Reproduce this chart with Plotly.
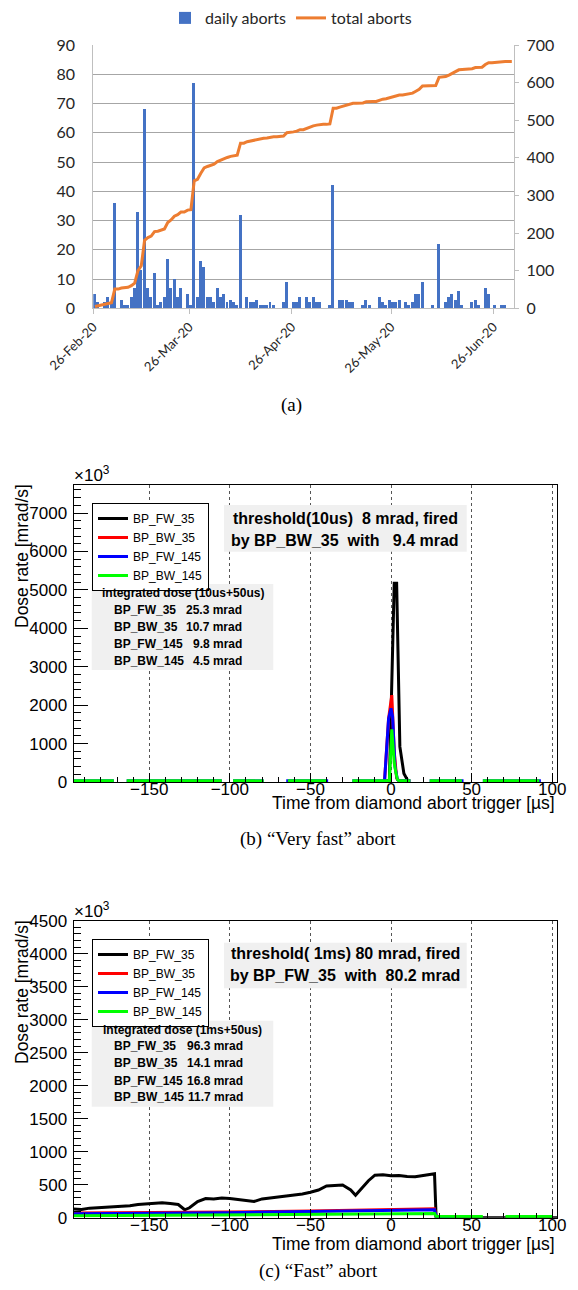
import numpy as np
import pandas as pd
import plotly.graph_objects as go

W, H = 578, 1290
def px(x): return x / W
def py(y): return 1 - y / H

# ---------------- (a) daily / total aborts ----------------
first_day = "2020-02-26"
daily_aborts = [5, 2, 0, 2, 4, 2, 36, 0, 3, 1,
                1, 4, 7, 33, 13, 68, 7, 4, 12, 1,
                2, 4, 17, 7, 10, 4, 7, 0, 5, 1,
                77, 4, 16, 14, 4, 4, 2, 7, 4, 5,
                2, 3, 2, 1, 32, 0, 4, 2, 2, 3,
                1, 1, 1, 2, 1, 0, 0, 2, 9, 0,
                2, 2, 4, 0, 4, 2, 4, 2, 2, 0,
                0, 1, 42, 0, 3, 3, 3, 2, 2, 0,
                0, 1, 3, 1, 0, 0, 4, 2, 1, 3,
                2, 2, 3, 0, 2, 1, 2, 5, 5, 9,
                0, 0, 1, 0, 22, 0, 2, 4, 5, 3,
                6, 1, 0, 0, 2, 3, 1, 0, 7, 5,
                0, 1, 0, 1, 1, 0, 0]
date_ticks = ["2020-02-26", "2020-03-26", "2020-04-26", "2020-05-26", "2020-06-26"]

days = pd.date_range(first_day, periods=len(daily_aborts), freq="D") + pd.Timedelta(hours=12)
total_aborts = np.cumsum(daily_aborts)

# ---------------- (b) "Very fast" abort ----------------
vf_t_fw35 = [-3, -1, 2, 3.5, 5.5, 8, 10.5, 12]
vf_v_fw35 = [30, 30, 5170, 5170, 920, 220, 30, 30]
vf_t_bw35 = [-5, -4, -1.5, 0.5, 2, 3.5, 5, 8]
vf_v_bw35 = [30, 30, 1650, 2260, 800, 100, 30, 30]
vf_t_fw145 = [-197, -172, -170, -164, -105, -100, -98, -79, -70, -65, -39, -30, -24, -4, -1.5, 0, 1, 2.5, 4, 5, 12, 18, 24, 45, 50, 57, 93]
vf_v_fw145 = [30, 30, None, 30, 30, None, 30, 30, None, 30, 30, None, 30, 30, 1650, 1920, 1700, 400, 60, 30, 30, None, 30, 30, None, 30, 30]
vf_t_bw145 = [-197, -172, -170, -164, -105, -100, -98, -79, -70, -64, -40, -30, -24, -2, -1, 0.5, 2, 3, 4, 5, 12, 18, 24, 44, 50, 57, 92]
vf_v_bw145 = [30, 30, None, 30, 30, None, 30, 30, None, 30, 30, None, 30, 30, 30, 1370, 500, 250, 60, 30, 30, None, 30, 30, None, 30, 30]

# ---------------- (c) "Fast" abort ----------------
f_t_fw35 = [-197, -192, -187, -182, -177, -172, -167, -162, -157, -152, -147, -142, -137, -132, -128,
            -125, -120, -115, -110, -105, -100, -95, -90, -85, -80, -75, -70, -65, -60, -55, -50,
            -45, -40, -35, -30, -25, -22, -18, -14, -10, -5, 0, 5, 10, 15, 20, 25, 27, 28, 103]
f_v_fw35 = [130, 125, 145, 150, 160, 165, 175, 180, 200, 205, 215, 225, 215, 200, 120,
            150, 245, 290, 285, 300, 290, 275, 260, 245, 285, 300, 310, 325, 345, 360, 385,
            420, 480, 490, 495, 420, 340, 450, 560, 645, 650, 635, 640, 625, 620, 640, 660, 665, 0, 0]
f_t_bw35 = [-197, -150, -100, -50, -25, 0, 25, 27, 28, 30]
f_v_bw35 = [70, 75, 85, 100, 115, 130, 135, 135, 20, 20]
f_t_fw145 = [-197, -150, -100, -50, -25, 0, 25, 27, 28, 38]
f_v_fw145 = [60, 65, 75, 95, 105, 120, 120, 120, 20, 20]
f_t_bw145 = [-197, -150, -100, -50, 0, 27, 28, 38, 57, 64, 71, 100]
f_v_bw145 = [30, 35, 40, 55, 62, 62, 20, 20, 20, None, 20, 20]

series_names = ["BP_FW_35", "BP_BW_35", "BP_FW_145", "BP_BW_145"]
series_colors = ["#000000", "#ff0000", "#0000ff", "#00ff00"]

ROOT_FONT = "Liberation Sans, Arial, sans-serif"
XL_FONT = "Lato, Open Sans, sans-serif"
SERIF = "Liberation Serif, Times New Roman, serif"

fig = go.Figure()

# (a)
fig.add_trace(go.Bar(x=days, y=daily_aborts, name="daily aborts", marker_color="#4472C4",
                     marker_line_width=0, width=0.9 * 86400000, xaxis="x", yaxis="y", legend="legend"))
fig.add_trace(go.Scatter(x=days, y=total_aborts, name="total aborts", mode="lines",
                         line=dict(color="#ED7D31", width=3), xaxis="x", yaxis="y2", legend="legend"))

# (b)
for nm, col, t, v in zip(series_names, series_colors,
                         [vf_t_fw35, vf_t_bw35, vf_t_fw145, vf_t_bw145],
                         [vf_v_fw35, vf_v_bw35, vf_v_fw145, vf_v_bw145]):
    fig.add_trace(go.Scatter(x=t, y=v, name=nm, mode="lines", line=dict(color=col, width=3),
                             connectgaps=False, xaxis="x2", yaxis="y3", legend="legend2"))
# (c)
for nm, col, t, v in zip(series_names, series_colors,
                         [f_t_fw35, f_t_bw35, f_t_fw145, f_t_bw145],
                         [f_v_fw35, f_v_bw35, f_v_fw145, f_v_bw145]):
    fig.add_trace(go.Scatter(x=t, y=v, name=nm, mode="lines", line=dict(color=col, width=3),
                             connectgaps=False, xaxis="x3", yaxis="y4", legend="legend3"))

grid_gray = "#a6a6a6"
axis_gray = "#bfbfbf"

root_x = dict(range=[-197, 103], dtick=50, tick0=0, ticks="inside", ticklen=9, tickcolor="black",
              minor=dict(dtick=10, ticks="inside", ticklen=5, tickcolor="black", showgrid=False),
              showline=True, mirror=True, linecolor="black", linewidth=1,
              showgrid=True, griddash="dot", gridcolor="#555555", gridwidth=1, zeroline=False,
              tickfont=dict(family=ROOT_FONT, size=17, color="black"), automargin=False,
              ticklabelstandoff=-8)
root_y = dict(ticks="inside", ticklen=14, tickcolor="black",
              showline=True, mirror=True, linecolor="black", linewidth=1,
              showgrid=False, zeroline=False,
              tickfont=dict(family=ROOT_FONT, size=17, color="black"), automargin=False,
              ticklabelstandoff=2)

fig.update_layout(
    width=W, height=H, margin=dict(l=0, r=0, t=0, b=0),
    paper_bgcolor="white", plot_bgcolor="white", bargap=0,
    xaxis=dict(domain=[px(93.3), px(514.3)], anchor="y", type="date",
               range=[first_day, "2020-07-02 06:00"], tickvals=date_ticks, tickformat="%d-%b-%y",
               tickangle=-45, ticks="outside", ticklen=5, tickcolor=axis_gray,
               showline=True, linecolor=axis_gray, showgrid=False, zeroline=False,
               tickfont=dict(family=XL_FONT, size=13, color="#262626"), automargin=False),
    yaxis=dict(domain=[py(308.3), py(45)], anchor="x", range=[0, 90], dtick=10,
               showgrid=True, gridcolor=grid_gray, gridwidth=1, showline=True, linecolor=axis_gray,
               zeroline=False, ticks="", ticklabelstandoff=14,
               tickfont=dict(family=XL_FONT, size=16, color="#262626"), automargin=False),
    yaxis2=dict(overlaying="y", side="right", anchor="x", range=[0, 700], dtick=100,
                showgrid=False, showline=True, linecolor=axis_gray, zeroline=False,
                ticks="outside", ticklen=4, tickcolor=axis_gray, ticklabelstandoff=4,
                tickfont=dict(family=XL_FONT, size=16, color="#262626"), automargin=False),
    xaxis2=dict(domain=[px(73.5), px(557)], anchor="y3", **root_x),
    yaxis3=dict(domain=[py(782), py(485)], anchor="x2", range=[0, 7730], dtick=1000,
                minor=dict(dtick=200, ticks="inside", ticklen=7, tickcolor="black", showgrid=False),
                **root_y),
    xaxis3=dict(domain=[px(73.5), px(557)], anchor="y4", **root_x),
    yaxis4=dict(domain=[py(1217.7), py(920.7)], anchor="x3", range=[0, 4500], dtick=500,
                minor=dict(dtick=100, ticks="inside", ticklen=7, tickcolor="black", showgrid=False),
                **root_y),
    legend=dict(orientation="h", x=px(165), y=py(1), xanchor="left", yanchor="top",
                font=dict(family=XL_FONT, size=16, color="#262626"), bgcolor="rgba(0,0,0,0)"),
    legend2=dict(x=px(92), y=py(503), xanchor="left", yanchor="top", bgcolor="white",
                 bordercolor="black", borderwidth=1, tracegroupgap=0,
                 font=dict(family=ROOT_FONT, size=12, color="black")),
    legend3=dict(x=px(92), y=py(939), xanchor="left", yanchor="top", bgcolor="white",
                 bordercolor="black", borderwidth=1, tracegroupgap=0,
                 font=dict(family=ROOT_FONT, size=12, color="black")),
)

shapes = []
ann = []

def text(x, y, s, size, family=ROOT_FONT, xanchor="center", yanchor="middle", angle=0, color="black"):
    ann.append(dict(x=px(x), y=py(y), xref="paper", yref="paper", text=s, showarrow=False,
                    xanchor=xanchor, yanchor=yanchor, textangle=angle,
                    font=dict(family=family, size=size, color=color)))

def box(x0, y0, x1, y1):
    shapes.append(dict(type="rect", xref="paper", yref="paper", x0=px(x0), x1=px(x1),
                       y0=py(y1), y1=py(y0), fillcolor="#f0f0f0", line=dict(width=0), layer="above"))

NB = "\u00a0"

# panel (b) texts
text(72, 487, "×10<sup>3</sup>", 17, xanchor="left", yanchor="bottom")
text(22, 556, "Dose rate [mrad/s]", 17.5, angle=-90)
text(557, 803, "Time from diamond abort trigger [µs]", 17.5, xanchor="right")
box(224, 505, 466.7, 551.7)
text(345, 518.3, "<b>threshold(10us)" + NB * 2 + "8 mrad, fired</b>", 16)
text(345, 540, "<b>by BP_BW_35" + NB * 2 + "with" + NB * 3 + "9.4 mrad</b>", 16)
box(91.7, 584, 273.3, 670)
text(182.5, 593.3, "<b>integrated dose (10us+50us)</b>", 12)
vf_dose = ["25.3 mrad", "10.7 mrad", "9.8 mrad", "4.5 mrad"]
for i, (nm, d) in enumerate(zip(series_names, vf_dose)):
    yy = [610, 626.7, 644.3, 660.7][i]
    text(111.5, yy, "<b>" + nm + "</b>", 12, xanchor="left")
    text(244, yy, "<b>" + d + "</b>", 12, xanchor="right")
text(318, 839, "(b) “Very fast” abort", 19, family=SERIF)

# panel (c) texts
text(72, 923, "×10<sup>3</sup>", 17, xanchor="left", yanchor="bottom")
text(22, 992, "Dose rate [mrad/s]", 17.5, angle=-90)
text(557, 1243.5, "Time from diamond abort trigger [µs]", 17.5, xanchor="right")
box(224, 942.7, 466.7, 988.3)
text(345, 953.3, "<b>threshold(" + NB + "1ms) 80 mrad, fired</b>", 16)
text(345, 975.7, "<b>by BP_FW_35" + NB * 2 + "with" + NB * 2 + "80.2 mrad</b>", 16)
box(91.7, 1020.7, 273.3, 1106.7)
text(182.5, 1030, "<b>integrated dose (1ms+50us)</b>", 12)
f_dose = ["96.3 mrad", "14.1 mrad", "16.8 mrad", "11.7 mrad"]
for i, (nm, d) in enumerate(zip(series_names, f_dose)):
    yy = [1045.7, 1063.3, 1081, 1096.7][i]
    text(111.5, yy, "<b>" + nm + "</b>", 12, xanchor="left")
    text(245, yy, "<b>" + d + "</b>", 12, xanchor="right")
text(318, 1271, "(c) “Fast” abort", 19, family=SERIF)

# panel (a) caption
text(291, 405, "(a)", 19, family=SERIF)

fig.update_layout(shapes=shapes, annotations=ann)
fig.write_html("out.html")
